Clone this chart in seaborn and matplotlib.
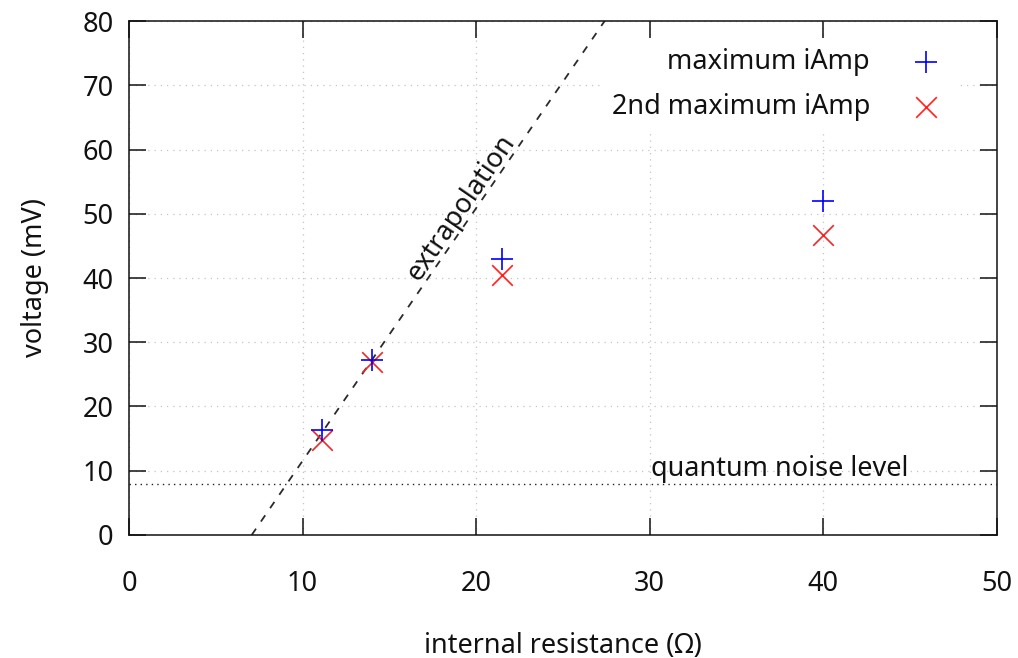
import matplotlib
matplotlib.use("Agg")
import matplotlib.pyplot as plt
import seaborn as sns
import pandas as pd

# Measured amplitudes versus internal resistance
resistance = [11.1, 14.0, 21.5, 40.0]
max_iamp = [16.3, 27.2, 43.0, 52.0]
second_max_iamp = [14.8, 27.0, 40.5, 46.7]

# Linear extrapolation through the low-resistance points
extrap_r = [7.07, 27.4]
extrap_v = [0.0, 80.0]

noise_level = 8.0

x_ticks = [0, 10, 20, 30, 40, 50]
y_ticks = [0, 10, 20, 30, 40, 50, 60, 70, 80]

FS = 19.5

sns.set_theme(style="white")
plt.rcParams["font.family"] = ["Noto Sans", "DejaVu Sans"]
plt.rcParams["text.color"] = "#111111"
plt.rcParams["axes.labelcolor"] = "#111111"

fig = plt.figure(figsize=(10.18, 6.58), dpi=100)
ax = fig.add_axes([0.1267, 0.187, 0.8526, 0.781])

df1 = pd.DataFrame({"r": resistance, "v": max_iamp})
df2 = pd.DataFrame({"r": resistance, "v": second_max_iamp})
dfe = pd.DataFrame({"r": extrap_r, "v": extrap_v})

sns.lineplot(data=dfe, x="r", y="v", ax=ax, color="#2a2a2a", lw=1.3,
             linestyle=(0, (4.2, 4.8)), zorder=2)
ax.axhline(noise_level, color="#222222", lw=1.0, linestyle=(0, (1, 3)), zorder=2)

sns.scatterplot(data=df1, x="r", y="v", ax=ax, marker="+", s=270, color="#0000ff",
                linewidth=1.2, label="maximum iAmp", zorder=4)
sns.scatterplot(data=df2, x="r", y="v", ax=ax, marker="x", s=220, color="#ff2020",
                linewidth=1.2, label="2nd maximum iAmp", zorder=3)

ax.set_xlim(0, 50)
ax.set_ylim(0, 80)
ax.set_xticks(x_ticks)
ax.set_yticks(y_ticks)

for s in ax.spines.values():
    s.set_visible(True)
    s.set_color("#111111")
    s.set_linewidth(1.1)

ax.grid(True, color="#c4c4c4", lw=0.9, linestyle=(0, (1, 4)))
ax.set_axisbelow(True)

ax.tick_params(axis="both", which="both", direction="in", length=12, width=1.1,
               color="#111111", labelsize=FS, labelcolor="#111111",
               top=True, right=True, bottom=True, left=True)
ax.tick_params(axis="x", pad=25)
ax.tick_params(axis="y", pad=11)

ax.set_xlabel("internal resistance (Ω)", fontsize=FS, labelpad=24.5)
ax.set_ylabel("voltage (mV)", fontsize=FS, labelpad=24)

ax.text(19.5, 50.3, "extrapolation", rotation=55.5, rotation_mode="anchor",
        ha="center", va="baseline", fontsize=FS, color="#111111",
        transform_rotates_text=False)
ax.text(30.05, 9.2, "quantum noise level", ha="left", va="baseline",
        fontsize=FS, color="#111111")

leg = ax.legend(loc="upper right", bbox_to_anchor=(0.955, 0.967), markerfirst=False,
                frameon=True, fontsize=FS, handlelength=1.6, handletextpad=1.27,
                labelspacing=0.63, borderpad=0.37, borderaxespad=0)
leg.get_frame().set_facecolor("white")
leg.get_frame().set_edgecolor("none")
leg.get_frame().set_alpha(1.0)
leg.get_frame().set_boxstyle("square", pad=0)

fig.savefig("out.png", dpi=100)
